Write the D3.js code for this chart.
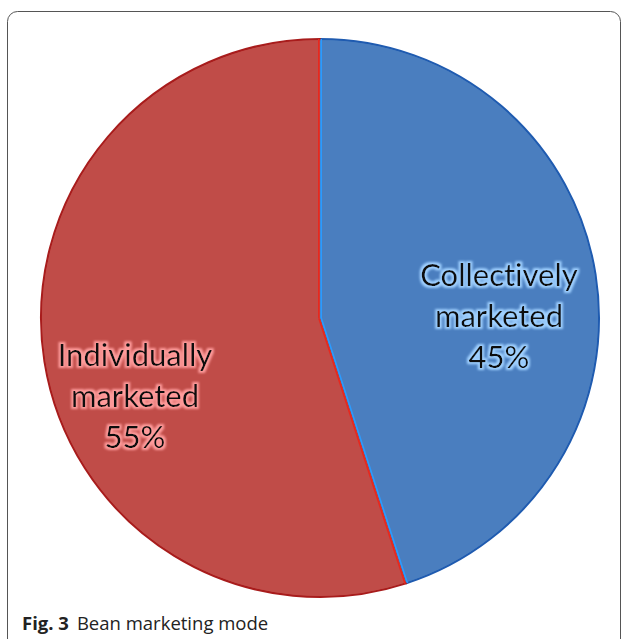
<!DOCTYPE html>
<html><head><meta charset="utf-8">
<script src="https://cdn.jsdelivr.net/npm/d3@7"></script>
<style>html,body{margin:0;padding:0;background:#fff;}svg{display:block;}text{font-variant-ligatures:none;font-feature-settings:"liga" 0;}</style>
</head><body>
<script>
const categories = ["Collectively marketed", "Individually marketed"];
const labelLines = [["Collectively", "marketed", "45%"], ["Individually", "marketed", "55%"]];
const values = [45, 55];
const colors = ["#4a7ebf", "#c04c48"];
const edgeColors = ["#1f5bb0", "#a81c1c"];
const glowColors = ["#9fd0ff", "#ff9c9c"];

const W = 627, H = 639;
const svg = d3.select("body").append("svg").attr("width", W).attr("height", H);

// frame
svg.append("rect").attr("x", 7.5).attr("y", 11.5).attr("width", 613).attr("height", 640)
  .attr("rx", 10).attr("fill", "none").attr("stroke", "#555").attr("stroke-width", 1);

const defs = svg.append("defs");
glowColors.forEach((c, i) => {
  const f = defs.append("filter").attr("id", "glow" + i).attr("x", "-20%").attr("y", "-20%").attr("width", "140%").attr("height", "140%");
  f.append("feMorphology").attr("in", "SourceAlpha").attr("operator", "dilate").attr("radius", 1.6).attr("result", "d");
  f.append("feGaussianBlur").attr("in", "d").attr("stdDeviation", 1.3).attr("result", "b");
  f.append("feFlood").attr("flood-color", c).attr("flood-opacity", 1);
  f.append("feComposite").attr("in2", "b").attr("operator", "in").attr("result", "g");
  const m = f.append("feMerge");
  m.append("feMergeNode").attr("in", "g");
  m.append("feMergeNode").attr("in", "SourceGraphic");
});

const cx = 320, cy = 318, r = 279;
const g = svg.append("g").attr("transform", `translate(${cx},${cy})`);
const pie = d3.pie().sort(null).value(d => d)(values);
const arc = d3.arc().innerRadius(0).outerRadius(r);
const arcIn = d3.arc().innerRadius(0).outerRadius(r - 1.2);

g.selectAll("path.slice").data(pie).join("path").attr("class", "slice")
  .attr("d", arc).attr("fill", (d, i) => colors[i])
  .attr("stroke", (d, i) => edgeColors[i]).attr("stroke-width", 2).attr("stroke-linejoin", "round");
g.selectAll("path.inner").data(pie).join("path").attr("class", "inner")
  .attr("d", arcIn).attr("fill", (d, i) => colors[i]).attr("stroke", "none");

// boundary lines: red on red side, light blue on blue side
const bound = [pie[0].startAngle, pie[0].endAngle];
bound.forEach((a, k) => {
  const x = Math.sin(a) * r, y = -Math.cos(a) * r;
  const nx = Math.cos(a), ny = Math.sin(a);
  const blueSign = k === 0 ? 1 : -1;
  g.append("line").attr("x1", blueSign * nx * 1.2).attr("y1", blueSign * ny * 1.2)
    .attr("x2", x + blueSign * nx * 1.2).attr("y2", y + blueSign * ny * 1.2)
    .attr("stroke", "#2a9bff").attr("stroke-width", 1.6);
  g.append("line").attr("x1", -blueSign * nx * 1.2).attr("y1", -blueSign * ny * 1.2)
    .attr("x2", x - blueSign * nx * 1.2).attr("y2", y - blueSign * ny * 1.2)
    .attr("stroke", "#e8281e").attr("stroke-width", 1.6);
});

const labelPos = [[499, 275], [135, 355]];
const lh = 41;
labelLines.forEach((lines, i) => {
  const t = svg.append("text").attr("text-anchor", "middle")
    .attr("font-family", "Lato, 'Open Sans', sans-serif").attr("font-size", 31)
    .attr("fill", "#111").attr("filter", `url(#glow${i})`);
  lines.forEach((s, j) => {
    t.append("tspan").attr("x", labelPos[i][0]).attr("y", labelPos[i][1] + j * lh + 11).text(s);
  });
});

const cap = svg.append("text").attr("x", 22).attr("y", 630)
  .attr("font-family", "'Open Sans', 'Noto Sans', sans-serif").attr("font-size", 18.5).attr("fill", "#222");
cap.append("tspan").attr("font-weight", "bold").text("Fig. 3");
cap.append("tspan").attr("dx", 8).text("Bean marketing mode");
</script>
</body></html>
